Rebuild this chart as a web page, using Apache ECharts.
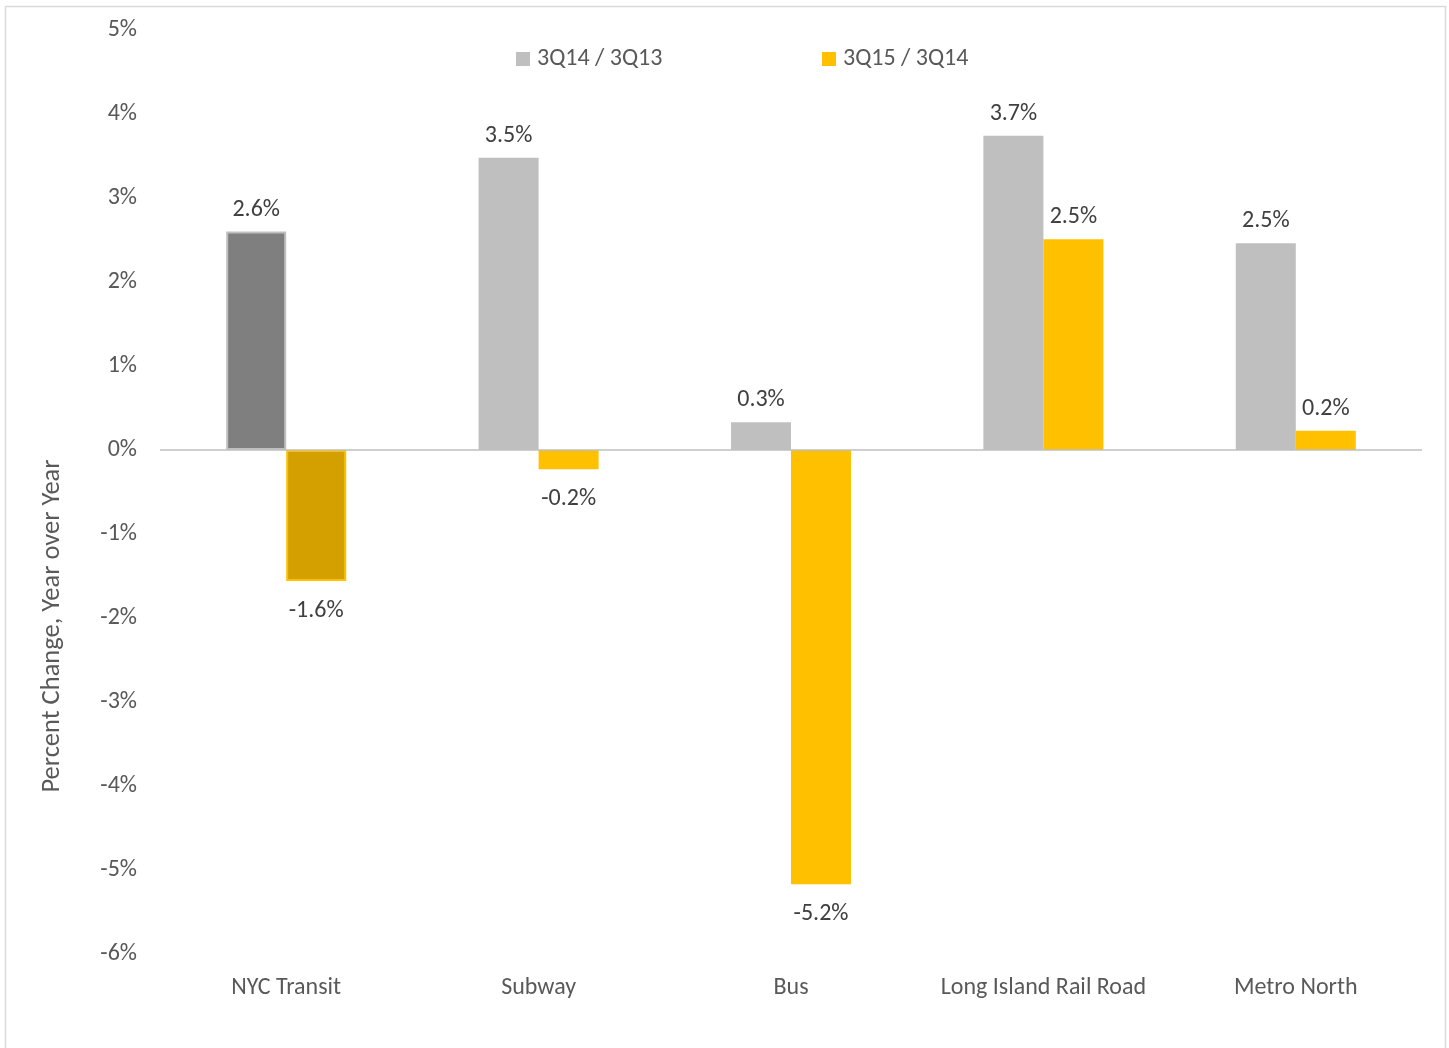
<!DOCTYPE html>
<html>
<head>
<meta charset="utf-8">
<script src="https://cdn.jsdelivr.net/npm/echarts@6/dist/echarts.min.js"></script>
<style>
html,body{margin:0;padding:0;background:#fff;}
#chart{width:1449px;height:1048px;}
</style>
</head>
<body>
<div id="chart"></div>
<script>
const categories = ['NYC Transit', 'Subway', 'Bus', 'Long Island Rail Road', 'Metro North'];
const seriesNames = ['3Q14 / 3Q13', '3Q15 / 3Q14'];
const values2014 = [2.6, 3.48, 0.33, 3.74, 2.46];
const values2015 = [-1.56, -0.23, -5.17, 2.51, 0.23];
const yTicks = { min: -6, max: 5, interval: 1 };

const FONT = 'Carlito, Lato, "Open Sans", sans-serif';
const FS = 24;

function buildData(vals, highlight) {
  return vals.map((v, i) => {
    const item = {
      value: v,
      label: {
        position: v >= 0 ? 'top' : 'bottom',
        distance: v >= 0 ? 10 : 18
      }
    };
    if (i === 0) item.itemStyle = highlight;
    return item;
  });
}

const labelCfg = {
  show: true,
  color: '#404040',
  fontSize: FS,
  fontFamily: FONT,
  formatter: p => p.value.toFixed(1) + '%'
};

const legendText = { color: '#595959', fontSize: FS, fontFamily: FONT, padding: [0, 0, 0, 2] };

const chart = echarts.init(document.getElementById('chart'));
chart.setOption({
  animation: false,
  backgroundColor: '#fff',
  graphic: [
    {
      type: 'rect',
      shape: { x: 5.5, y: 6.5, width: 1440, height: 1060 },
      style: { fill: 'none', stroke: '#D9D9D9', lineWidth: 1.5 },
      silent: true
    },
    {
      type: 'text',
      x: 52, y: 626,
      rotation: Math.PI / 2,
      style: {
        text: 'Percent Change, Year over Year',
        fill: '#595959',
        fontSize: 26.5,
        fontFamily: FONT,
        align: 'center',
        verticalAlign: 'middle'
      }
    }
  ],
  legend: [
    {
      data: [seriesNames[0]], left: 511, top: 42,
      itemWidth: 14, itemHeight: 14, icon: 'rect', itemGap: 0,
      textStyle: legendText
    },
    {
      data: [seriesNames[1]], left: 817, top: 42,
      itemWidth: 14, itemHeight: 14, icon: 'rect', itemGap: 0,
      textStyle: legendText
    }
  ],
  grid: { left: 160, right: 27, top: 30, bottom: 94, containLabel: false },
  xAxis: {
    type: 'category',
    data: categories,
    axisLine: { show: false, onZero: false },
    axisTick: { show: false },
    axisLabel: { color: '#595959', fontSize: FS, fontFamily: FONT, margin: 22, interval: 0 }
  },
  yAxis: {
    type: 'value',
    min: yTicks.min, max: yTicks.max, interval: yTicks.interval,
    axisLine: { show: false },
    axisTick: { show: false },
    splitLine: { show: false },
    axisLabel: { color: '#595959', fontSize: FS, fontFamily: FONT, margin: 23, formatter: '{value}%' }
  },
  series: [
    {
      name: seriesNames[0],
      type: 'bar',
      barWidth: 60,
      barGap: '0%',
      itemStyle: { color: '#BFBFBF' },
      label: labelCfg,
      data: buildData(values2014, { color: '#7F7F7F', borderColor: '#BFBFBF', borderWidth: 2 }),
      markLine: {
        silent: true,
        symbol: 'none',
        label: { show: false },
        lineStyle: { color: '#BFBFBF', width: 1.5, type: 'solid' },
        data: [{ yAxis: 0 }]
      },
      z: 2
    },
    {
      name: seriesNames[1],
      type: 'bar',
      barWidth: 60,
      barGap: '0%',
      itemStyle: { color: '#FFC000' },
      label: labelCfg,
      data: buildData(values2015, { color: '#D4A000', borderColor: '#FFC000', borderWidth: 2 }),
      z: 2
    }
  ]
});
</script>
</body>
</html>
